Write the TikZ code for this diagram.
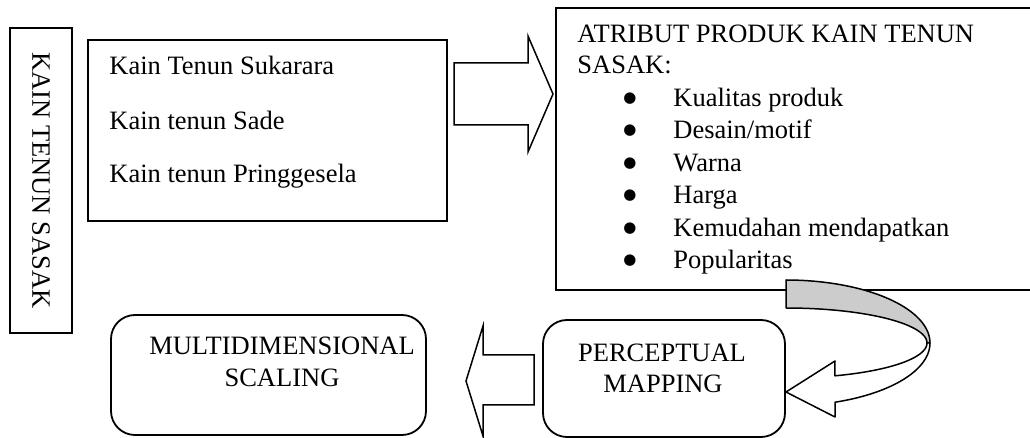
\documentclass[tikz,border=0pt]{standalone}
\usepackage{fontspec}
\setmainfont{Liberation Serif}
\newfontfamily\bulletfont{DejaVu Sans}
\usetikzlibrary{fit}
\begin{document}
\begin{tikzpicture}[x=0.5pt,y=-0.5pt,
  box/.style={draw=black, line width=1pt, inner sep=0pt},
  rbox/.style={draw=black, line width=0.9pt, inner sep=0pt, rounded corners=12pt},
  txt/.style={inner sep=0pt, font=\fontsize{13.25}{15}\selectfont},
  bul/.style={inner sep=0pt, font=\bulletfont\fontsize{7.5}{8}\selectfont},
  blockarrow/.style={draw=black, fill=white, line width=0.75pt, line join=miter},
  ribbon/.style={draw=black, line width=0.75pt, line join=round}]
\useasboundingbox (0,0) rectangle (1030,438);
% vertical box
\node[box, fit={(10,28) (72,333)}] (kts) {};
\node[txt, rotate=-90] (ktst) at (kts.center) {KAIN TENUN SASAK};
% source box
\node[box, fit={(88,40) (447,221)}] (src) {};
\node[txt, anchor=base west] (s1) at (109,75) {Kain Tenun Sukarara};
\node[txt, anchor=base west] (s2) at (109,130) {Kain tenun Sade};
\node[txt, anchor=base west] (s3) at (109,183) {Kain tenun Pringgesela};
% attribute box (right edge beyond the picture)
\node[box, fit={(556,8) (1040,290)}] (attr) {};
\node[txt, anchor=base west] (a0) at (577,43) {ATRIBUT PRODUK KAIN TENUN};
\node[txt, anchor=base west] (a0b) at (577,74) {SASAK:};
\foreach \y/\t [count=\i] in {107/Kualitas produk,139/Desain\slash motif,172/Warna,204/Harga,237/Kemudahan mendapatkan,269/Popularitas}{
  \node[bul] (b\i) at (630,\y-8) {●};
  \node[txt, anchor=base west] (a\i) at (673,\y) {\t};
}
% right block arrow
\draw[blockarrow] (454,63) -- (528,63) -- (528,36) -- (553,94) -- (528,152) -- (528,125) -- (454,125) -- cycle;
% curved arrow: grey back part
\filldraw[ribbon, fill=gray!40]
  plot[domain=270:360, samples=50, variable=\a] ({786+144*cos(\a)},{343+63*sin(\a)})
  -- plot[domain=0:-90, samples=50, variable=\a] ({786+141*cos(\a)},{343+35*sin(\a)})
  -- cycle;
% curved arrow: white front part with head
\filldraw[ribbon, fill=white]
  plot[domain=0:69.7, samples=40, variable=\a] ({786+141*cos(\a)},{343+35*sin(\a)})
  -- (835,361) -- (786,392) -- (835,417)
  -- plot[domain=70.1:0, samples=40, variable=\a] ({786+144*cos(\a)},{343+63*sin(\a)})
  -- cycle;
% perceptual mapping
\node[rbox, fit={(543,320) (785,437)}] (pm) {};
\node[txt, anchor=base] (pm1) at (662,362) {PERCEPTUAL};
\node[txt, anchor=base] (pm2) at (663,393) {MAPPING};
% left block arrow
\draw[blockarrow] (534,355) -- (483,355) -- (483,326) -- (466,381) -- (483,436) -- (483,405) -- (534,405) -- cycle;
% multidimensional scaling
\node[rbox, fit={(111,315) (426,435)}] (mds) {};
\node[txt, anchor=base] (m1) at (282,355) {MULTIDIMENSIONAL};
\node[txt, anchor=base] (m2) at (282,387) {SCALING};
\end{tikzpicture}
\end{document}
